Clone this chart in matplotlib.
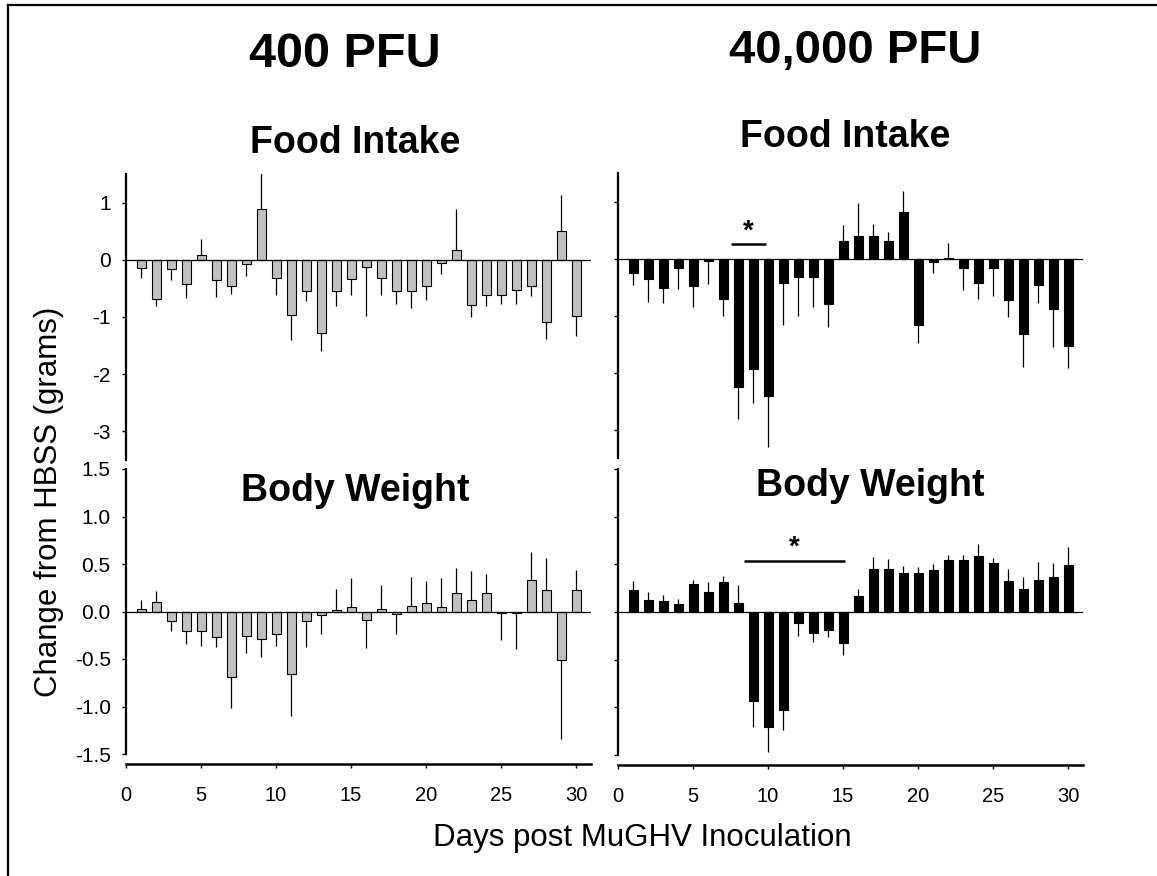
import numpy as np
import matplotlib.pyplot as plt
from matplotlib.lines import Line2D
from matplotlib.ticker import FormatStrFormatter

plt.rcParams['font.family'] = ['Liberation Sans', 'DejaVu Sans']
plt.rcParams['axes.unicode_minus'] = False

days = np.arange(1, 31)

# food intake, 400 PFU (mean change from HBSS, grams) and SEM
food_low = [-0.15, -0.68, -0.16, -0.43, 0.08, -0.35, -0.45, -0.07, 0.89, -0.32,
            -0.96, -0.54, -1.28, -0.54, -0.34, -0.12, -0.31, -0.55, -0.54, -0.45,
            -0.06, 0.17, -0.79, -0.62, -0.61, -0.52, -0.45, -1.09, 0.51, -0.98]
food_low_sem = [0.17, 0.13, 0.20, 0.23, 0.28, 0.30, 0.14, 0.21, 0.62, 0.29,
                0.45, 0.18, 0.32, 0.27, 0.27, 0.86, 0.30, 0.23, 0.30, 0.25,
                0.18, 0.72, 0.21, 0.19, 0.16, 0.26, 0.18, 0.30, 0.63, 0.35]

# food intake, 40,000 PFU
food_high = [-0.25, -0.36, -0.51, -0.17, -0.49, -0.05, -0.71, -2.25, -1.94, -2.41,
             -0.43, -0.33, -0.32, -0.79, 0.30, 0.40, 0.39, 0.30, 0.81, -1.16,
             -0.06, 0.01, -0.16, -0.43, -0.16, -0.73, -1.33, -0.47, -0.89, -1.53]
food_high_sem = [0.22, 0.40, 0.27, 0.36, 0.36, 0.39, 0.30, 0.56, 0.59, 0.89,
                 0.74, 0.68, 0.53, 0.41, 0.28, 0.58, 0.21, 0.17, 0.38, 0.32,
                 0.20, 0.27, 0.40, 0.28, 0.50, 0.29, 0.57, 0.31, 0.66, 0.39]

# body weight, 400 PFU
bw_low = [0.03, 0.10, -0.10, -0.20, -0.20, -0.27, -0.69, -0.26, -0.29, -0.24,
          -0.66, -0.10, -0.04, 0.02, 0.05, -0.09, 0.03, -0.03, 0.06, 0.09,
          0.05, 0.20, 0.12, 0.20, -0.02, -0.02, 0.33, 0.23, -0.51, 0.23]
bw_low_sem = [0.09, 0.12, 0.10, 0.14, 0.16, 0.10, 0.33, 0.18, 0.19, 0.12,
              0.44, 0.27, 0.20, 0.22, 0.30, 0.29, 0.25, 0.21, 0.30, 0.23,
              0.30, 0.26, 0.31, 0.19, 0.28, 0.37, 0.30, 0.33, 0.83, 0.21]

# body weight, 40,000 PFU
bw_high = [0.23, 0.13, 0.12, 0.08, 0.29, 0.21, 0.31, 0.09, -0.93, -1.21,
           -1.03, -0.12, -0.22, -0.19, -0.32, 0.17, 0.45, 0.45, 0.41, 0.41,
           0.44, 0.55, 0.55, 0.59, 0.51, 0.32, 0.24, 0.34, 0.37, 0.49]
bw_high_sem = [0.10, 0.08, 0.06, 0.06, 0.05, 0.10, 0.07, 0.19, 0.28, 0.26,
               0.21, 0.13, 0.09, 0.07, 0.13, 0.07, 0.13, 0.11, 0.07, 0.06,
               0.06, 0.05, 0.05, 0.12, 0.06, 0.13, 0.13, 0.18, 0.14, 0.19]

# significance brackets: (start day, end day, height)
sig_food = (7.5, 9.85, 0.25)
sig_bw = (8.4, 15.1, 0.535)

W, H = 1157, 876
fig = plt.figure(figsize=(W / 100, H / 100), dpi=100)


def box(left, top, right, bottom):
    return [left / W, (H - bottom) / H, (right - left) / W, (bottom - top) / H]


def panel(rect, means, sems, color, ylim, yticks, ylabels, bottom_axis):
    ax = fig.add_axes(rect)
    means = np.array(means)
    sems = np.array(sems)
    lower = np.where(means < 0, sems, 0)
    upper = np.where(means >= 0, sems, 0)
    ax.errorbar(days, means, yerr=[lower, upper], fmt='none', ecolor='black',
                elinewidth=0.9, capsize=0, zorder=1)
    ax.bar(days, means, width=0.6, color=color, edgecolor='black',
           linewidth=0.8, zorder=2)
    ax.axhline(0, color='black', lw=0.9, zorder=3)
    ax.set_xlim(0, 31)
    ax.set_ylim(*ylim)
    ax.set_yticks(yticks)
    if ylabels:
        ax.yaxis.set_major_formatter(FormatStrFormatter(ylabels))
    else:
        ax.set_yticklabels([])
    ax.spines['top'].set_visible(False)
    ax.spines['right'].set_visible(False)
    ax.spines['left'].set_linewidth(1.6)
    ax.tick_params(axis='y', direction='out', length=3, width=1,
                   labelsize=15, pad=8)
    if bottom_axis:
        ax.spines['bottom'].set_position(('outward', 7.2))
        ax.spines['bottom'].set_linewidth(1.8)
        ax.set_xticks(range(0, 31, 5))
        ax.tick_params(axis='x', direction='out', length=3, width=1,
                       labelsize=14.5, pad=13)
    else:
        ax.spines['bottom'].set_visible(False)
        ax.set_xticks([])
    ax.patch.set_alpha(0)
    return ax


gray = '#c0c0c0'
food_ticks = [-3, -2, -1, 0, 1]
bw_ticks = [-1.5, -1.0, -0.5, 0.0, 0.5, 1.0, 1.5]

ax1 = panel(box(126, 174, 591, 460), food_low, food_low_sem, gray,
            (-3.5, 1.5), food_ticks, '%d', False)
ax2 = panel(box(618, 173, 1083, 458), food_high, food_high_sem, 'black',
            (-3.5, 1.5), food_ticks, None, False)
ax3 = panel(box(126, 469, 591, 754), bw_low, bw_low_sem, gray,
            (-1.5, 1.5), bw_ticks, '%.1f', True)
ax4 = panel(box(618, 469, 1083, 755), bw_high, bw_high_sem, 'black',
            (-1.5, 1.5), bw_ticks, None, True)

# significance bars
for ax, (x0, x1, yv) in ((ax2, sig_food), (ax4, sig_bw)):
    ax.plot([x0, x1], [yv, yv], color='black', lw=1.8, solid_capstyle='butt')
    ax.text((x0 + x1) / 2, yv, '*', ha='center', va='bottom', fontsize=20,
            fontweight='bold')

# titles
fig.text(345 / W, 1 - 67 / H, '400 PFU', ha='center', va='baseline',
         fontsize=35, fontweight='bold')
fig.text(855 / W, 1 - 63 / H, '40,000 PFU', ha='center', va='baseline',
         fontsize=34, fontweight='bold')
fig.text(355 / W, 1 - 153 / H, 'Food Intake', ha='center', va='baseline',
         fontsize=27, fontweight='bold')
fig.text(845 / W, 1 - 147 / H, 'Food Intake', ha='center', va='baseline',
         fontsize=27, fontweight='bold')
fig.text(355 / W, 1 - 501 / H, 'Body Weight', ha='center', va='baseline',
         fontsize=27, fontweight='bold')
fig.text(870 / W, 1 - 496 / H, 'Body Weight', ha='center', va='baseline',
         fontsize=27, fontweight='bold')

fig.text(49 / W, 1 - 502 / H, 'Change from HBSS (grams)', rotation=90,
         ha='center', va='center', fontsize=22.5)
fig.text(642 / W, 1 - 846 / H, 'Days post MuGHV Inoculation', ha='center',
         va='baseline', fontsize=22.5)

# frame around the figure
fig.add_artist(Line2D([8 / W, 8 / W], [0, 1 - 5 / H], color='black', lw=1.6))
fig.add_artist(Line2D([8 / W, 1], [1 - 5 / H, 1 - 5 / H], color='black', lw=1.6))

fig.savefig('out.png', dpi=100)
